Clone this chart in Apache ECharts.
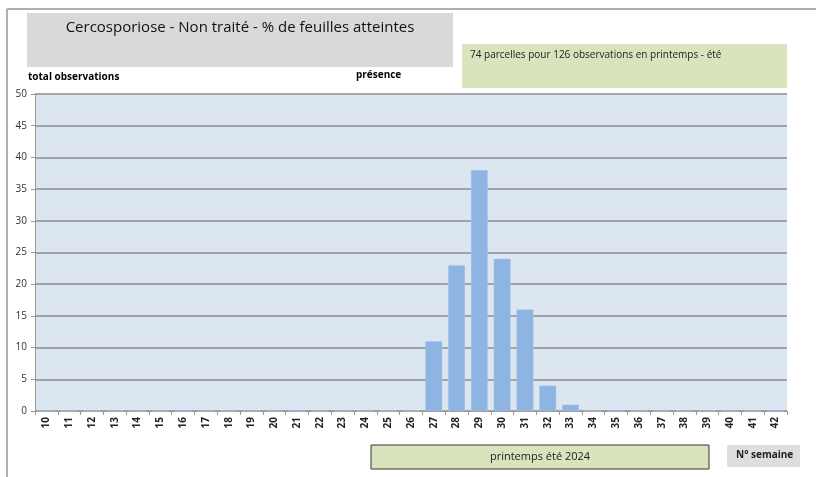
<!DOCTYPE html>
<html>
<head>
<meta charset="utf-8">
<script src="https://cdn.jsdelivr.net/npm/echarts@6/dist/echarts.min.js"></script>
<style>
  html, body { margin: 0; padding: 0; background: #fff; }
  #chart { width: 816px; height: 477px; }
</style>
</head>
<body>
<div id="chart"></div>
<script>
var weeks = ['10','11','12','13','14','15','16','17','18','19','20','21','22','23','24','25','26',
             '27','28','29','30','31','32','33','34','35','36','37','38','39','40','41','42'];
var presence = [0,0,0,0,0,0,0,0,0,0,0,0,0,0,0,0,0,
                11,23,38,24,16,4,1,0,0,0,0,0,0,0,0,0];
var titleText = 'Cercosporiose - Non traité - % de feuilles atteintes';
var infoText = '74 parcelles pour 126 observations en printemps - été';
var periodText = 'printemps été 2024';

var font = "'Open Sans', sans-serif";
var myChart = echarts.init(document.getElementById('chart'));

var option = {
    animation: false,
    backgroundColor: '#fff',
    textStyle: { fontFamily: font },
    grid: {
        left: 35, top: 94, right: 29, bottom: 66,
        show: true,
        backgroundColor: '#dce6f1',
        borderWidth: 0
    },
    xAxis: {
        type: 'category',
        data: weeks,
        axisLine: { lineStyle: { color: '#999' } },
        axisTick: { show: true, length: 4, lineStyle: { color: '#999' } },
        axisLabel: {
            rotate: 90, interval: 0, fontSize: 10, fontWeight: 'bold',
            color: '#222', fontFamily: font, margin: 6
        }
    },
    yAxis: {
        type: 'value',
        min: 0, max: 50, interval: 5,
        axisLine: { show: true, lineStyle: { color: '#999' } },
        axisTick: { show: true, length: 4, lineStyle: { color: '#999' } },
        axisLabel: { fontSize: 10, color: '#333', fontFamily: font, margin: 8 },
        splitLine: { lineStyle: { color: '#8c8c8c', width: 1.5 } }
    },
    series: [{
        name: 'présence',
        type: 'bar',
        data: presence,
        barWidth: '74%',
        itemStyle: { color: '#8db4e2', borderColor: '#a9c6ea', borderWidth: 0.5 }
    }],
    graphic: [
        { type: 'line', shape: { x1: 7, y1: 9, x2: 7, y2: 477 }, style: { stroke: '#b0b0b0', lineWidth: 2 } },
        { type: 'line', shape: { x1: 7, y1: 9, x2: 816, y2: 9 }, style: { stroke: '#b0b0b0', lineWidth: 2 } },
        { type: 'rect', shape: { x: 27, y: 13, width: 426, height: 54 }, style: { fill: '#d9d9d9' } },
        { type: 'text', x: 240, y: 20, style: { text: titleText, fill: '#111', fontSize: 15, fontFamily: font, textAlign: 'center' } },
        { type: 'rect', shape: { x: 462, y: 44, width: 325, height: 44 }, style: { fill: '#d8e4bc' } },
        { type: 'text', x: 470, y: 50, style: { text: infoText, fill: '#222', fontSize: 10, fontFamily: font } },
        { type: 'text', x: 28, y: 72, style: { text: 'total observations', fill: '#000', fontSize: 10, fontWeight: 'bold', fontFamily: font } },
        { type: 'text', x: 356, y: 70, style: { text: 'présence', fill: '#000', fontSize: 10, fontWeight: 'bold', fontFamily: font } },
        { type: 'rect', shape: { x: 371, y: 445, width: 338, height: 24 }, style: { fill: '#d8e4bc', stroke: '#333', lineWidth: 1 } },
        { type: 'text', x: 540, y: 451, style: { text: periodText, fill: '#222', fontSize: 11, fontFamily: font, textAlign: 'center' } },
        { type: 'rect', shape: { x: 727, y: 445, width: 73, height: 22 }, style: { fill: '#dedede' } },
        { type: 'text', x: 736, y: 450, style: { text: 'N° semaine', fill: '#222', fontSize: 10, fontWeight: 'bold', fontFamily: font } }
    ]
};

myChart.setOption(option);
</script>
</body>
</html>
